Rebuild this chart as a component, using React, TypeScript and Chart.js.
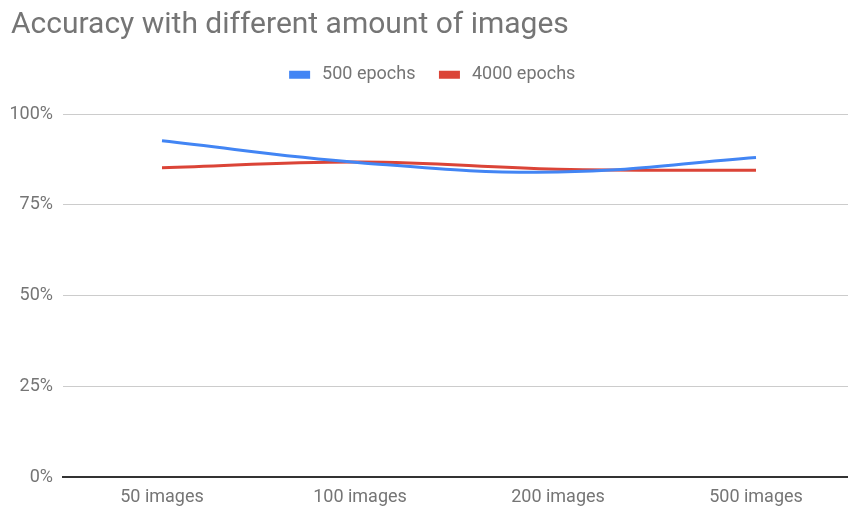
import React, { useEffect, useRef } from "react";
import { Chart, registerables, layouts } from "chart.js";

Chart.register(...registerables);

const categories = ["50 images", "100 images", "200 images", "500 images"];
const epochs500 = [92.6, 86.6, 84.0, 88.0];
const epochs4000 = [85.2, 86.8, 84.8, 84.5];
const yTicks = [0, 25, 50, 75, 100];

const TEXT = "#757575";
const FONT = "Roboto";

const spacerPlugin = {
  id: "topSpacer",
  beforeInit(chart: any) {
    const box = {
      position: "top",
      weight: 1,
      fullSize: true,
      options: { position: "top", weight: 1, fullSize: true },
      top: 0, left: 0, right: 0, bottom: 0, width: 0, height: 0,
      update(maxWidth: number) {
        box.width = maxWidth;
        box.height = 20.2;
        return { width: maxWidth, height: 20.2 };
      },
      isHorizontal() { return true; },
      getPadding() { return { top: 0, left: 0, right: 0, bottom: 0 }; },
      draw() {},
    } as any;
    (layouts as any).addBox(chart, box);
  },
};

export default function App() {
  const ref = useRef<HTMLCanvasElement>(null);
  useEffect(() => {
    if (!ref.current) return;
    const defaultLabels = (Chart as any).defaults.plugins.legend.labels.generateLabels;
    const chart = new Chart(ref.current, {
      type: "line",
      data: {
        labels: categories,
        datasets: [
          {
            label: "500 epochs",
            data: epochs500,
            borderColor: "#4285F4",
            backgroundColor: "#4285F4",
            borderWidth: 3,
            pointRadius: 0,
            tension: 0.4,
          },
          {
            label: "4000 epochs",
            data: epochs4000,
            borderColor: "#DB4437",
            backgroundColor: "#DB4437",
            borderWidth: 3,
            pointRadius: 0,
            tension: 0.4,
          },
        ],
      },
      plugins: [spacerPlugin],
      options: {
        animation: false,
        responsive: false,
        layout: { padding: { left: 11, right: 10, top: 0, bottom: 0 } },
        plugins: {
          title: {
            display: true,
            text: "Accuracy with different amount of images",
            align: "start",
            color: TEXT,
            font: { family: FONT, size: 30, weight: "normal" },
            padding: { top: 7, bottom: -2.2 },
          },
          legend: {
            display: true,
            position: "top",
            labels: {
              color: TEXT,
              font: { family: FONT, size: 18 },
              boxWidth: 18,
              boxHeight: 5,
              padding: 25,
              generateLabels: (c: any) =>
                defaultLabels(c).map((l: any) => ({ ...l, text: " " + l.text })),
            },
          },
          tooltip: { enabled: false },
        },
        scales: {
          x: {
            offset: true,
            grid: { display: false, drawTicks: false },
            border: { display: true, color: "#333", width: 2 },
            ticks: {
              color: TEXT,
              font: { family: FONT, size: 18 },
              padding: 10,
              maxRotation: 0,
            },
            afterFit(scale: any) {
              scale.height = 31;
            },
          },
          y: {
            min: 0,
            max: 100,
            afterBuildTicks(scale: any) {
              scale.ticks = yTicks.map((v) => ({ value: v }));
            },
            grid: {
              drawTicks: false,
              color: (ctx: any) => (ctx.tick && ctx.tick.value === 0 ? "#333" : "#ccc"),
              lineWidth: (ctx: any) => (ctx.tick && ctx.tick.value === 0 ? 2 : 1),
            },
            border: { display: false },
            ticks: {
              color: TEXT,
              font: { family: FONT, size: 18 },
              padding: 10,
              callback: (v: any) => v + "%",
            },
            afterFit(scale: any) {
              scale.width = 52;
            },
          },
        },
      },
    } as any);
    return () => chart.destroy();
  }, []);
  return (
    <div
      style={{
        position: "fixed",
        left: 0,
        top: 0,
        width: 848,
        height: 508,
        overflow: "hidden",
        background: "#fff",
      }}
    >
      <canvas ref={ref} width={865} height={508} style={{ width: 865, height: 508, display: "block" }} />
    </div>
  );
}
